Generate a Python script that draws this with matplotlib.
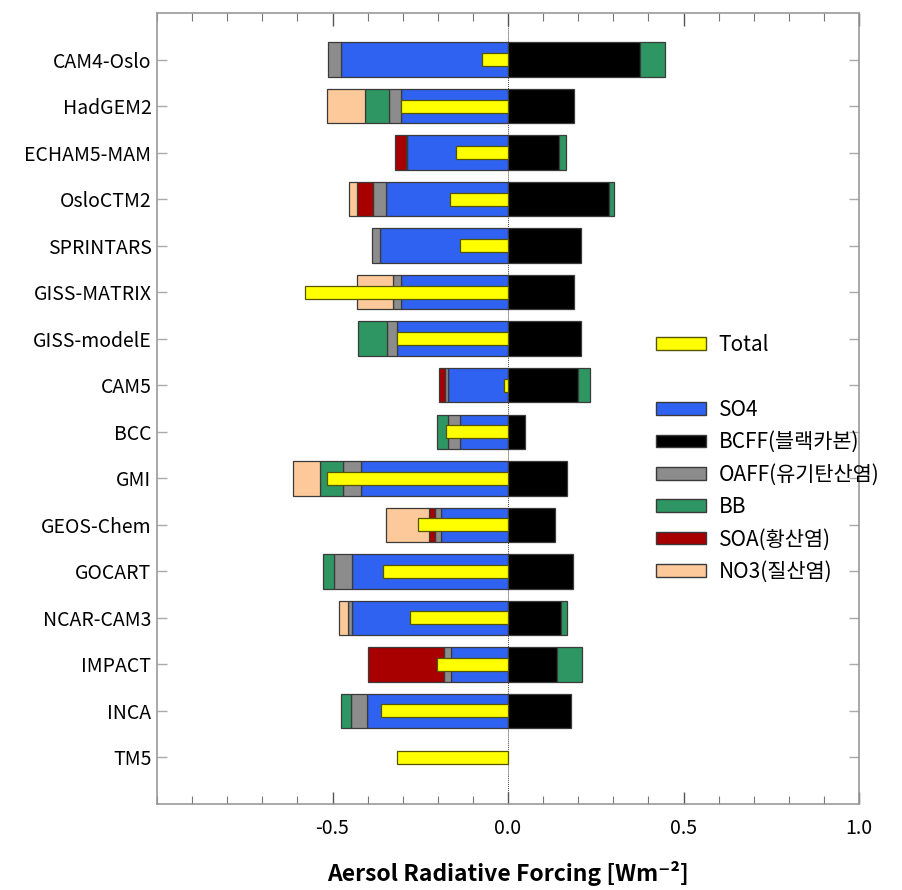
import numpy as np
import matplotlib
matplotlib.use("Agg")
import matplotlib.pyplot as plt
from matplotlib.patches import Patch
from matplotlib.ticker import MultipleLocator

plt.rcParams['font.family'] = ['Noto Sans CJK KR', 'DejaVu Sans']

models = ["CAM4-Oslo", "HadGEM2", "ECHAM5-MAM", "OsloCTM2", "SPRINTARS", "GISS-MATRIX",
          "GISS-modelE", "CAM5", "BCC", "GMI", "GEOS-Chem", "GOCART", "NCAR-CAM3",
          "IMPACT", "INCA", "TM5"]

# forcing per component [W m-2]
so4 = [-0.477, -0.305, -0.287, -0.349, -0.366, -0.305, -0.316, -0.172, -0.136, -0.418,
       -0.192, -0.444, -0.444, -0.161, -0.403, 0.0]
bcff = [0.377, 0.189, 0.146, 0.287, 0.208, 0.189, 0.208, 0.200, 0.049, 0.167,
        0.134, 0.184, 0.151, 0.139, 0.180, 0.0]
oaff = [-0.036, -0.033, -0.005, -0.036, -0.021, -0.023, -0.030, -0.008, -0.036, -0.051,
        -0.016, -0.052, -0.012, -0.020, -0.044, 0.0]
bb = [0.069, -0.070, 0.020, 0.016, 0.0, 0.0, -0.080, 0.033, -0.030, -0.066,
      0.0, -0.030, 0.016, 0.072, -0.030, 0.0]
soa = [0.0, 0.0, -0.030, -0.046, 0.0, 0.0, 0.0, -0.018, 0.0, 0.0,
       -0.018, 0.0, 0.0, -0.218, 0.0, 0.0]
no3 = [0.0, -0.108, 0.0, -0.021, 0.0, -0.103, 0.0, 0.0, 0.0, -0.077,
       -0.123, 0.0, -0.026, 0.0, 0.0, 0.0]
total = [-0.074, -0.305, -0.148, -0.164, -0.136, -0.579, -0.316, -0.010, -0.177, -0.516,
         -0.256, -0.357, -0.280, -0.202, -0.361, -0.316]

components = [
    ("SO4", so4, "#2f62f0"),
    ("BCFF(블랙카본)", bcff, "#000000"),
    ("OAFF(유기탄산염)", oaff, "#8c8c8c"),
    ("BB", bb, "#2e9663"),
    ("SOA(황산염)", soa, "#a80000"),
    ("NO3(질산염)", no3, "#fdc99a"),
]
edge = "#3a3a3a"

fig = plt.figure(figsize=(9.02, 8.90), dpi=100)
ax = fig.add_axes([157/902, 1-804/890, (859-157)/902, (804-13)/890])

y = np.arange(len(models))
pos = np.zeros(len(models))
neg = np.zeros(len(models))
for name, vals, col in components:
    v = np.array(vals)
    left = np.where(v < 0, neg, pos)
    m = v != 0
    ax.barh(y[m], v[m], left=left[m], height=0.74, color=col, edgecolor=edge, linewidth=0.9)
    pos = pos + np.where(v > 0, v, 0)
    neg = neg + np.where(v < 0, v, 0)

ax.barh(y, total, height=0.28, color="#ffff00", edgecolor="#555500", linewidth=0.9, zorder=3)
ax.axvline(0, color="#444444", lw=0.7, ls=(0, (1, 1)), zorder=0)

ax.set_xlim(-1.0, 1.0)
ax.set_ylim(len(models), -1)
ax.set_yticks(y)
ax.set_yticklabels(models, fontsize=14)
ax.set_xticks([-0.5, 0.0, 0.5, 1.0])
ax.set_xticklabels(["-0.5", "0.0", "0.5", "1.0"], fontsize=14)
ax.xaxis.set_minor_locator(MultipleLocator(0.1))
ax.tick_params(axis='x', which='major', direction='in', length=9, width=1, color="#555555",
               top=True, pad=10)
ax.tick_params(axis='x', which='minor', direction='in', length=6, width=0.8, color="#777777",
               top=True)
ax.tick_params(axis='y', which='major', direction='in', length=7, width=1, color="#aaaaaa",
               right=True, pad=4)
for s in ax.spines.values():
    s.set_color("#999999")
    s.set_linewidth(1.2)

ax.set_xlabel("Aersol Radiative Forcing [Wm⁻²]", fontsize=16.5, fontweight='bold', labelpad=16)

handles = [Patch(facecolor="#ffff00", edgecolor="#555500", label="Total"),
           Patch(facecolor="none", edgecolor="none", label=" ")]
for name, vals, col in components:
    handles.append(Patch(facecolor=col, edgecolor=edge, label=name))
fig.legend(handles=handles, loc='upper left', bbox_to_anchor=(656/902, 1-334/890),
           frameon=False, fontsize=15, borderpad=0, borderaxespad=0,
           handlelength=2.4, handleheight=0.55, handletextpad=0.6, labelspacing=0.5)

fig.savefig("out.png", dpi=100)
